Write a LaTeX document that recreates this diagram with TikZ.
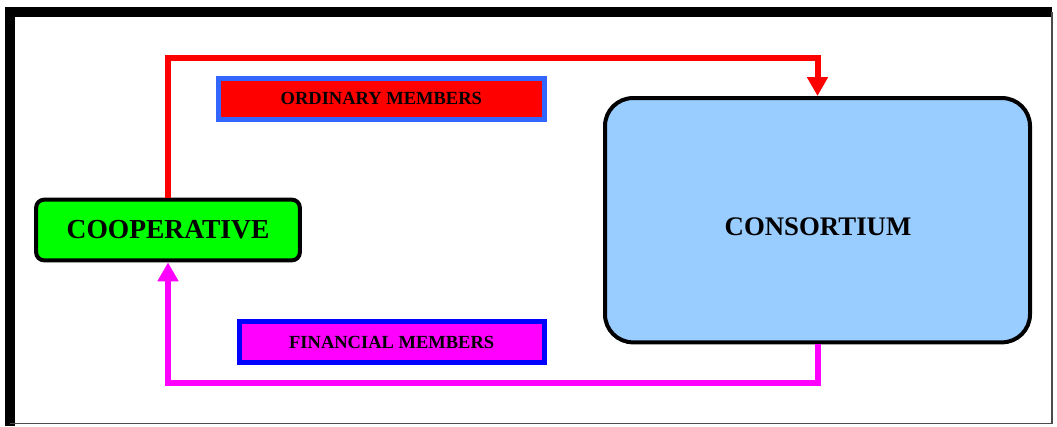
\documentclass[tikz,border=0pt]{standalone}
\usepackage{fontspec}
\setmainfont{Liberation Serif}
\usetikzlibrary{arrows.meta}
\definecolor{coopgreen}{HTML}{00FF00}
\definecolor{consblue}{HTML}{99CCFF}
\definecolor{ordblue}{HTML}{3366FF}
\definecolor{finblue}{HTML}{0000FF}
\definecolor{mag}{HTML}{FF00FF}
\definecolor{redc}{HTML}{FF0000}
\tikzset{
  bigbox/.style={draw=black, line width=4pt, align=center, font=\bfseries},
  labelbox/.style={draw, line width=5pt, inner sep=0pt, font=\bfseries\fontsize{18.5}{22}\selectfont},
  flow/.style={line width=6pt, line join=miter, -{Triangle[width=20pt,length=19pt]}}
}
\begin{document}
\begin{tikzpicture}[x=1pt,y=-1pt]
\useasboundingbox (0,0) rectangle (1057,426);
% frame
\draw[line width=10pt] (10,426) -- (10,12) -- (1052,12);
\draw[line width=1.2pt, black!70] (1052,12) -- (1052,423.5) -- (10,423.5);
% nodes
\node[bigbox, rounded corners=8pt, fill=coopgreen, minimum width=263.7pt, minimum height=60.7pt,
      font=\bfseries\fontsize{27.5}{32}\selectfont] (coop) at (168,230) {COOPERATIVE};
\node[bigbox, rounded corners=28pt, fill=consblue, minimum width=425pt, minimum height=244.3pt] (cons) at (817.5,220.2) {};
\node[font=\bfseries\fontsize{26.8}{32}\selectfont] (conslabel) at (818,226.5) {CONSORTIUM};
\node[labelbox, draw=ordblue, fill=redc, minimum width=325.7pt, minimum height=41pt] (ord) at (381.3,98.7) {ORDINARY MEMBERS};
\node[labelbox, draw=finblue, fill=mag, minimum width=305pt, minimum height=40.7pt] (fin) at (391.7,342.2) {FINANCIAL MEMBERS};
% connectors
\coordinate (rtop) at (500,58);
\coordinate (mbot) at (500,382.7);
\draw[flow, draw=redc] (coop.north) |- (rtop) -| (cons.north);
\draw[flow, draw=mag] (cons.south) |- (mbot) -| (coop.south);
\end{tikzpicture}
\end{document}
